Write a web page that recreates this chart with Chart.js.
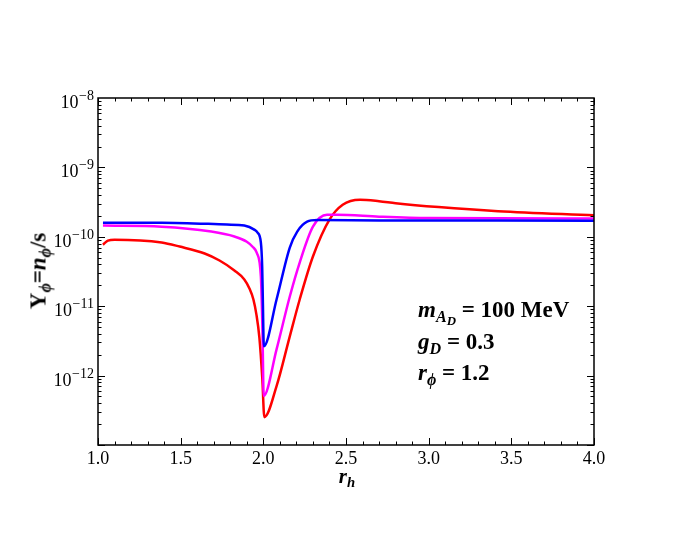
<!DOCTYPE html>
<html>
<head>
<meta charset="utf-8">
<title>Y_phi vs r_h</title>
<script src="https://cdn.jsdelivr.net/npm/chart.js@4.4.1/dist/chart.umd.min.js"></script>
<style>
  html, body { margin: 0; padding: 0; background: #fff; }
  #wrap { position: relative; width: 692px; height: 544px; }
  #chart { position: absolute; left: 0; top: 0; }
  .lbl {
    position: absolute;
    font-family: "Liberation Serif", "Times New Roman", serif;
    font-weight: bold;
    color: #000;
    white-space: nowrap;
    line-height: 1;
  }
  .lbl sub { font-size: 0.7em; vertical-align: -0.3em; line-height: 0; }
  .lbl sub sub { font-size: 0.8em; vertical-align: -0.25em; }
  #ytitle {
    font-size: 23px;
    left: 38px; top: 271px;
    transform: translate(-50%, -50%) rotate(-90deg);
  }
  #xtitle { font-size: 21px; left: 347px; top: 466px; transform: translateX(-50%); }
  .note { font-size: 23px; left: 418px; }
</style>
</head>
<body>
<div id="wrap">
  <canvas id="chart" width="692" height="544"></canvas>
  <div class="lbl" id="ytitle">Y<sub><i>&#981;</i></sub>=<i>n</i><sub><i>&#981;</i></sub>/s</div>
  <div class="lbl" id="xtitle"><i>r<sub>h</sub></i></div>
  <div class="lbl note" style="top:298px"><i>m</i><sub><i>A<sub>D</sub></i></sub> = 100 MeV</div>
  <div class="lbl note" style="top:330px"><i>g<sub>D</sub></i> = 0.3</div>
  <div class="lbl note" style="top:361px"><i>r<sub>&#981;</sub></i> = 1.2</div>
</div>
<script>
// values
const blueX = [1.03, 1.385, 1.78, 1.885, 1.945, 1.965, 1.985, 1.993, 1.997, 2.003, 2.08, 2.16, 2.205, 2.265, 2.325, 2.70, 4.0];
const blueY = [1.60e-10, 1.60e-10, 1.50e-10, 1.45e-10, 1.27e-10, 1.15e-10, 8.3e-11, 3.73e-11, 1.25e-11, 2.64e-12, 1.25e-11, 7.0e-11, 1.19e-10, 1.65e-10, 1.74e-10, 1.72e-10, 1.71e-10];

const magentaX = [1.03, 1.385, 1.685, 1.825, 1.90, 1.935, 1.96, 1.985, 1.995, 2.002, 2.08, 2.16, 2.22, 2.30, 2.385, 2.445, 2.70, 3.0, 4.0];
const magentaY = [1.45e-10, 1.40e-10, 1.19e-10, 1.01e-10, 8.5e-11, 7.2e-11, 5.9e-11, 2.68e-11, 4.2e-12, 5.1e-13, 2.39e-12, 1.38e-11, 4.26e-11, 1.40e-10, 2.08e-10, 2.08e-10, 1.95e-10, 1.86e-10, 1.83e-10];

const redX = [1.03, 1.06, 1.10, 1.385, 1.494, 1.645, 1.735, 1.825, 1.885, 1.916, 1.94, 1.958, 1.976, 1.994, 2.006, 2.08, 2.16, 2.22, 2.30, 2.40, 2.48, 2.585, 2.70, 2.80, 3.06, 3.42, 4.0];
const redY = [7.7e-11, 8.8e-11, 9.1e-11, 8.3e-11, 7.23e-11, 5.74e-11, 4.55e-11, 3.27e-11, 2.43e-11, 1.80e-11, 1.25e-11, 7.62e-12, 3.56e-12, 8.87e-13, 2.52e-13, 7.05e-13, 3.68e-12, 1.25e-11, 5.2e-11, 1.77e-10, 2.9e-10, 3.42e-10, 3.26e-10, 3.05e-10, 2.68e-10, 2.34e-10, 2.04e-10];

const xTicks = [1.0, 1.5, 2.0, 2.5, 3.0, 3.5, 4.0];
const xTickLabels = ['1.0', '1.5', '2.0', '2.5', '3.0', '3.5', '4.0'];
const yTicks = [1e-8, 1e-9, 1e-10, 1e-11, 1e-12];
const yTickExps = ['\u22128', '\u22129', '\u221210', '\u221211', '\u221212'];

const FONT = '"Liberation Serif", "Times New Roman", serif';

function toPoints(xs, ys) {
  return xs.map((x, i) => ({ x, y: ys[i] }));
}

// frame with inward ticks on all four sides, plus tick labels
const frameTicks = {
  id: 'frameTicks',
  afterDraw(chart) {
    const { ctx, chartArea: a, scales: { x, y } } = chart;
    ctx.save();
    ctx.strokeStyle = '#000';
    ctx.fillStyle = '#000';

    ctx.lineWidth = 1;
    ctx.beginPath();
    // x minor / major ticks
    for (let i = 0; i <= 30; i++) {
      const v = 1 + i * 0.1;
      const px = Math.round(x.getPixelForValue(v)) + 0.5;
      const len = i % 5 === 0 ? 7 : 3.5;
      ctx.moveTo(px, a.bottom); ctx.lineTo(px, a.bottom - len);
      ctx.moveTo(px, a.top); ctx.lineTo(px, a.top + len);
    }
    // y minor / major ticks
    for (let d = -13; d < -8; d++) {
      for (let m = 1; m <= 9; m++) {
        const v = m * Math.pow(10, d);
        const py = Math.round(y.getPixelForValue(v)) + 0.5;
        const len = m === 1 ? 7 : 3.5;
        ctx.moveTo(a.left, py); ctx.lineTo(a.left + len, py);
        ctx.moveTo(a.right, py); ctx.lineTo(a.right - len, py);
      }
    }
    ctx.stroke();

    ctx.lineWidth = 1.5;
    ctx.strokeRect(a.left, a.top, a.right - a.left, a.bottom - a.top);

    // x tick labels
    ctx.font = '18px ' + FONT;
    ctx.textAlign = 'center';
    ctx.textBaseline = 'alphabetic';
    xTicks.forEach((v, i) => {
      ctx.fillText(xTickLabels[i], x.getPixelForValue(v), a.bottom + 19);
    });

    // y tick labels: 10 with superscript exponent
    yTicks.forEach((v, i) => {
      const py = y.getPixelForValue(v);
      ctx.font = '14px ' + FONT;
      ctx.textAlign = 'right';
      const ew = ctx.measureText(yTickExps[i]).width;
      const ex = a.left - 4;
      ctx.fillText(yTickExps[i], ex, py + 2);
      ctx.font = '18px ' + FONT;
      ctx.fillText('10', ex - ew - 0.5, py + 10);
    });
    ctx.restore();
  },
};

const lineStyle = {
  borderWidth: 2.5,
  pointRadius: 0,
  fill: false,
  cubicInterpolationMode: 'monotone',
};

new Chart(document.getElementById('chart').getContext('2d'), {
  type: 'line',
  data: {
    datasets: [
      { label: 'blue', data: toPoints(blueX, blueY), borderColor: '#0000ff', ...lineStyle },
      { label: 'magenta', data: toPoints(magentaX, magentaY), borderColor: '#ff00ff', ...lineStyle },
      { label: 'red', data: toPoints(redX, redY), borderColor: '#ff0000', ...lineStyle },
    ],
  },
  options: {
    responsive: false,
    animation: false,
    devicePixelRatio: 1,
    layout: { padding: { left: 98, right: 98, top: 98, bottom: 99 } },
    plugins: { legend: { display: false }, tooltip: { enabled: false } },
    scales: {
      x: { type: 'linear', min: 1, max: 4, display: false },
      y: { type: 'logarithmic', min: 1e-13, max: 1e-8, display: false },
    },
  },
  plugins: [frameTicks],
});
</script>
</body>
</html>
